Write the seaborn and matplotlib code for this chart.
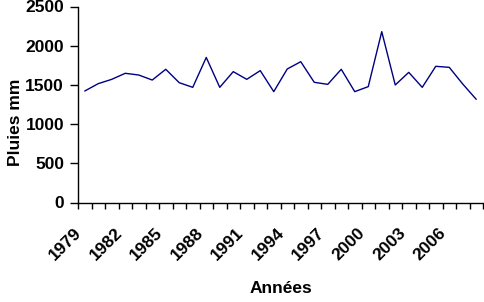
import matplotlib
matplotlib.use("Agg")
import matplotlib.pyplot as plt
import seaborn as sns
import pandas as pd
import numpy as np
from matplotlib.ticker import FixedLocator, NullFormatter, FixedFormatter

years = list(range(1979, 2009))
rain_mm = [1422, 1516, 1571, 1648, 1626, 1562, 1699, 1528, 1469, 1850,
           1469, 1669, 1571, 1682, 1414, 1703, 1796, 1533, 1507, 1699,
           1414, 1478, 2179, 1499, 1660, 1469, 1737, 1724, 1511, 1316]
label_years = [1979, 1982, 1985, 1988, 1991, 1994, 1997, 2000, 2003, 2006]
y_ticks = [0, 500, 1000, 1500, 2000, 2500]

sns.set_theme(style="white")
plt.rcParams['font.family'] = ['Liberation Sans', 'DejaVu Sans']
plt.rcParams['text.color'] = 'black'
plt.rcParams['axes.labelcolor'] = 'black'
plt.rcParams['xtick.color'] = 'black'
plt.rcParams['ytick.color'] = 'black'

df = pd.DataFrame({"pos": np.arange(len(years)), "year": years, "rain": rain_mm})

fig = plt.figure(figsize=(4.84, 3.02), dpi=100)
ax = fig.add_axes([78/484, (302-202.5)/302, 405/484, 196/302])
sns.lineplot(data=df, x="pos", y="rain", ax=ax, color="#000080", linewidth=1.0)

ax.set_xlim(-0.5, len(years) - 0.5)
ax.set_ylim(0, 2500)
ax.set_yticks(y_ticks)
ax.set_yticklabels([str(v) for v in y_ticks], fontsize=12.5, fontweight="bold", color="black")

# boundary ticks (marks only)
ax.xaxis.set_major_locator(FixedLocator(np.arange(-0.5, len(years), 1.0)))
ax.xaxis.set_major_formatter(NullFormatter())
# labels at category centres
lab_pos = [years.index(y) for y in label_years]
ax.xaxis.set_minor_locator(FixedLocator(lab_pos))
ax.xaxis.set_minor_formatter(FixedFormatter([str(y) for y in label_years]))
ax.tick_params(axis="x", which="major", direction="out", length=4, width=1, color="black", bottom=True)
ax.tick_params(axis="x", which="minor", length=0, pad=16, labelsize=12.5, labelcolor="black")
for lab in ax.get_xticklabels(minor=True):
    lab.set_rotation(45)
    lab.set_ha("right")
    lab.set_fontweight("bold")
ax.tick_params(axis="y", direction="out", length=6, width=1, color="black", left=True, pad=4)

for s in ["top", "right"]:
    ax.spines[s].set_visible(False)
for s in ["left", "bottom"]:
    ax.spines[s].set_color("black")
    ax.spines[s].set_linewidth(1)

ax.set_xlabel("Années", fontsize=12.5, fontweight="bold", color="black")
ax.set_ylabel("Pluies mm", fontsize=12.5, fontweight="bold", color="black")
ax.xaxis.set_label_coords(0.5, -0.40)
ax.yaxis.set_label_coords(-0.136, 0.41)

fig.savefig("out.png", dpi=100)
